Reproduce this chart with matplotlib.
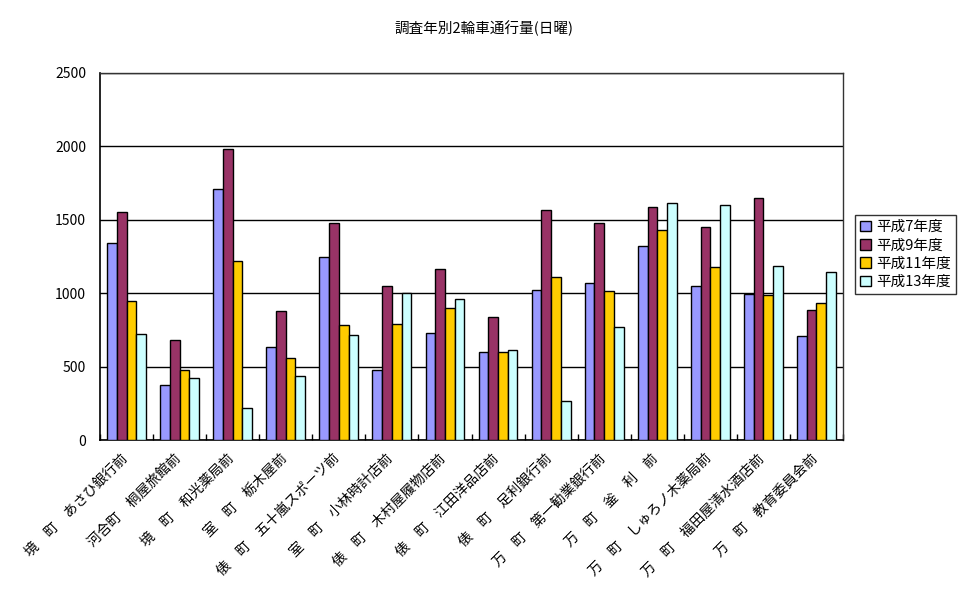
import matplotlib
matplotlib.use("Agg")
import matplotlib.pyplot as plt
import numpy as np

plt.rcParams['font.family'] = ['Noto Sans CJK JP', 'DejaVu Sans']

title = "調査年別2輪車通行量(日曜)"
categories = [
    "境　町　あさひ銀行前",
    "河合町　桐屋旅館前",
    "境　町　和光薬局前",
    "室　町　栃木屋前",
    "俵　町　五十嵐スポーツ前",
    "室　町　小林時計店前",
    "俵　町　木村屋履物店前",
    "俵　町　江田洋品店前",
    "俵　町　足利銀行前",
    "万　町　第一勧業銀行前",
    "万　町　釜　利　前",
    "万　町　しゅろノ木薬局前",
    "万　町　福田屋清水酒店前",
    "万　町　教育委員会前",
]
series_names = ["平成7年度", "平成9年度", "平成11年度", "平成13年度"]
h7 = [1340, 372, 1708, 631, 1244, 475, 727, 597, 1020, 1067, 1319, 1047, 993, 706]
h9 = [1551, 679, 1980, 877, 1476, 1047, 1163, 836, 1565, 1476, 1585, 1449, 1646, 883]
h11 = [945, 475, 1217, 556, 781, 788, 897, 597, 1108, 1013, 1428, 1176, 986, 931]
h13 = [720, 420, 216, 434, 713, 1000, 958, 611, 263, 768, 1612, 1599, 1183, 1142]
yticks = [0, 500, 1000, 1500, 2000, 2500]

colors = ["#9999FF", "#993366", "#FFCC00", "#CCFFFF"]

fig = plt.figure(figsize=(9.66, 6.02), dpi=100)
ax = fig.add_axes([100/966, 1-440/602, 743/966, 367/602])

n = len(categories)
x = np.arange(n)
bw = 0.183
series = [h7, h9, h11, h13]
for i, (vals, c, name) in enumerate(zip(series, colors, series_names)):
    ax.bar(x + (i - 1.5) * bw, vals, width=bw, color=c, edgecolor="black",
           linewidth=1.0, label=name, zorder=3)

ax.set_xlim(-0.5, n - 0.5)
ax.set_ylim(0, 2500)
ax.set_yticks(yticks)
ax.set_yticklabels([str(v) for v in yticks], fontsize=10)
ax.yaxis.grid(True, color="black", linewidth=1.0, zorder=0)
ax.tick_params(axis='y', length=0, pad=10)

ax.set_xticks(np.arange(n + 1) - 0.5, minor=False)
ax.set_xticklabels([])
ax.tick_params(axis='x', direction='in', length=4, width=1, color='black')
for xi, lab in zip(x, categories):
    ax.text(xi - 0.12, -75, lab, rotation=45, rotation_mode='anchor',
            ha='right', va='top', fontsize=10, transform=ax.transData,
            clip_on=False)

for side in ['left', 'bottom']:
    ax.spines[side].set_color('black')
    ax.spines[side].set_linewidth(1.2)
for side in ['top', 'right']:
    ax.spines[side].set_color('#333333')
    ax.spines[side].set_linewidth(1.0)

fig.text(484/966, 1-28/602, title, ha='center', va='center', fontsize=10.5)

leg = fig.legend(loc='upper left', bbox_to_anchor=(855/966, 1-215/602),
                 fontsize=10.5, frameon=True, fancybox=False, edgecolor='black',
                 handlelength=0.75, handleheight=0.75, handletextpad=0.35,
                 labelspacing=0.3, borderpad=0.35, borderaxespad=0)
leg.get_frame().set_linewidth(1.0)

fig.savefig("out.png", dpi=100)
